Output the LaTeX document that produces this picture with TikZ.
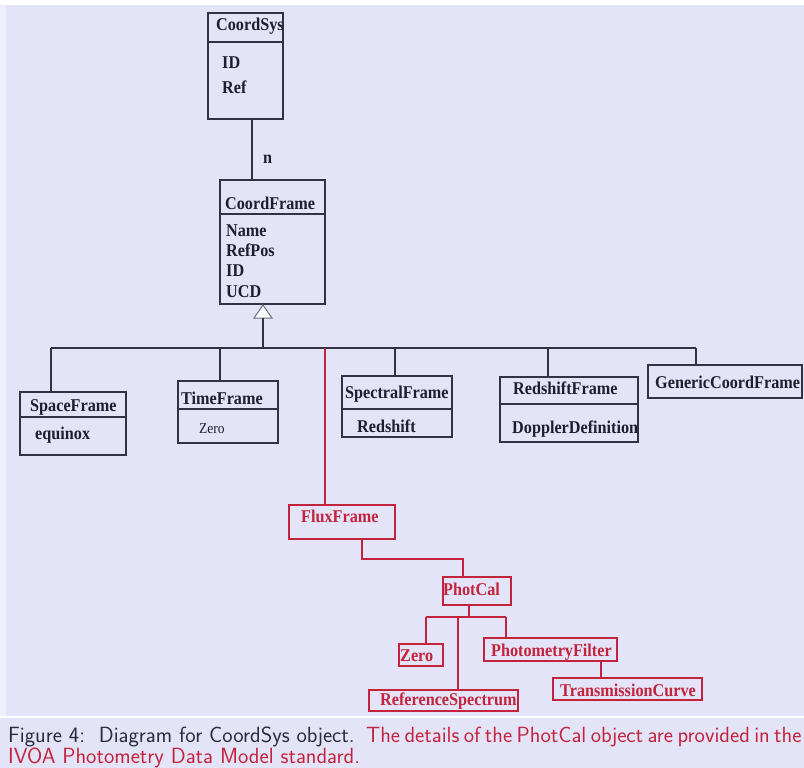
\documentclass[tikz,border=0pt]{standalone}
\usepackage{fontspec}
\setmainfont{Liberation Serif}
\newfontfamily\condserif[FakeStretch=0.9]{Liberation Serif}
\usetikzlibrary{calc}
\definecolor{bg}{RGB}{228,228,248}
\definecolor{bgl}{RGB}{238,238,252}
\definecolor{ink}{RGB}{30,30,46}
\definecolor{ln}{RGB}{50,50,70}
\definecolor{rd}{RGB}{195,35,60}
\definecolor{capink}{RGB}{40,44,60}
\newcommand\umlbox[6]{\node[draw=#6, line width=1.2pt, inner sep=0pt, outer sep=0pt, minimum width={#4-#2}, minimum height={#5-#3}] (#1) at ({(#2+#4)/2},{(#3+#5)/2}) {};}
\begin{document}
\begin{tikzpicture}[x=1pt,y=-1pt,
  lbl/.style={anchor=base west, inner sep=0pt, yshift=-1pt, text=ink, font=\condserif\bfseries\fontsize{18}{18}\selectfont},
  rlbl/.style={lbl, text=rd},
  conn/.style={draw=ln, line width=1.2pt},
  rconn/.style={draw=rd, line width=1.2pt},
  captxt/.style={anchor=base west, inner sep=0pt, font=\sffamily\fontsize{22}{23}\selectfont}]
\useasboundingbox (0,0) rectangle (804,768);
\clip (0,0) rectangle (804,768);
\fill[bg] (0,0) rectangle (804,768);
\fill[white] (0,0) rectangle (804,5);
\fill[bgl] (0,5) rectangle (6,717);
\draw[white, line width=1.5pt] (0,717) -- (804,717);

% boxes
\umlbox{cs}{208}{13}{283}{119}{ln}
\umlbox{cf}{220}{180}{325}{304}{ln}
\umlbox{sf}{20}{392}{126}{455}{ln}
\umlbox{tf}{178}{381}{278}{443}{ln}
\umlbox{spf}{342}{376}{452}{437}{ln}
\umlbox{rsf}{500}{377}{638}{442}{ln}
\umlbox{gcf}{648}{365}{802}{398}{ln}
\umlbox{ff}{289}{505}{395}{539}{rd}
\umlbox{pc}{443}{577}{511}{605}{rd}
\umlbox{zr}{399}{644}{443}{666}{rd}
\umlbox{rs}{369}{690}{518}{711}{rd}
\umlbox{pf}{484}{638}{617}{661}{rd}
\umlbox{tc}{553}{678}{702}{700}{rd}

% header separators
\coordinate (h1) at (0,42);
\coordinate (h2) at (0,214);
\coordinate (h3) at (0,417);
\coordinate (h4) at (0,409);
\coordinate (h5) at (0,409);
\coordinate (h6) at (0,404);
\draw[conn] (cs.west |- h1) -- (cs.east |- h1);
\draw[conn] (cf.west |- h2) -- (cf.east |- h2);
\draw[conn] (sf.west |- h3) -- (sf.east |- h3);
\draw[conn] (tf.west |- h4) -- (tf.east |- h4);
\draw[conn] (spf.west |- h5) -- (spf.east |- h5);
\draw[conn] (rsf.west |- h6) -- (rsf.east |- h6);

% texts
\node[lbl] (t1) at (216,30) {CoordSys};
\node[lbl] (t2) at (222,68) {ID};
\node[lbl] (t3) at (222,92) {Ref};
\node[lbl] (t4) at (225,208) {CoordFrame};
\node[lbl] (t5) at (226,235) {Name};
\node[lbl] (t6) at (226,255) {RefPos};
\node[lbl] (t7) at (226,275) {ID};
\node[lbl] (t8) at (226,296) {UCD};
\node[lbl] (t9) at (30,410) {SpaceFrame};
\node[lbl] (t10) at (35,438) {equinox};
\node[lbl] (t11) at (181,403) {TimeFrame};
\node[lbl, font=\condserif\fontsize{15}{15}\selectfont] (t12) at (199,432) {Zero};
\node[lbl] (t13) at (345,397) {SpectralFrame};
\node[lbl] (t14) at (357,431) {Redshift};
\node[lbl] (t15) at (513,393) {RedshiftFrame};
\node[lbl] (t16) at (512,432) {DopplerDefinition};
\node[lbl] (t17) at (655,387) {GenericCoordFrame};
\node[rlbl] (t18) at (301,521) {FluxFrame};
\node[rlbl] (t19) at (443,594) {PhotCal};
\node[rlbl] (t20) at (400,660) {Zero};
\node[rlbl] (t21) at (380,704) {ReferenceSpectrum};
\node[rlbl] (t22) at (491,655) {PhotometryFilter};
\node[rlbl] (t23) at (560,695) {TransmissionCurve};

% CoordSys - CoordFrame
\coordinate (j1) at (252,150);
\draw[conn] (cs.south -| j1) -- (cf.north -| j1);
\node[lbl] (nlab) at (263,163) {n};

% inheritance
\coordinate (tri) at (263,318);
\coordinate (barL) at (51,348);
\coordinate (barR) at (696,348);
\draw[draw=ln!70, line width=1pt, fill=white!85!bg] (tri |- cf.south) ++(0,1) -- ++(9,13) -- ++(-18,0) -- cycle;
\draw[conn] (tri) -- (tri |- barL);
\draw[conn] (barL) -- (barR);
\draw[conn] (barL) -- (barL |- sf.north);
\coordinate (d2) at (220,348);
\coordinate (d3) at (395,348);
\coordinate (d4) at (548,348);
\draw[conn] (d2) -- (d2 |- tf.north);
\draw[conn] (d3) -- (d3 |- spf.north);
\draw[conn] (d4) -- (d4 |- rsf.north);
\draw[conn] (barR) -- (barR |- gcf.north);

% red branch
\coordinate (rdd) at (325,348);
\draw[rconn] (rdd) -- (rdd |- ff.north);
\coordinate (fpA) at (362,559);
\coordinate (fpB) at (463,559);
\draw[rconn] (ff.south -| fpA) -- (fpA) -- (fpB) -- (fpB |- pc.north);
\coordinate (pcA) at (469,617);
\draw[rconn] (pc.south -| pcA) -- (pcA);
\coordinate (zb) at (426,617);
\coordinate (rsb) at (458,617);
\coordinate (pfb) at (506,617);
\draw[rconn] (zb) -- (pfb);
\draw[rconn] (zb) -- (zb |- zr.north);
\draw[rconn] (rsb) -- (rsb |- rs.north);
\draw[rconn] (pfb) -- (pfb |- pf.north);
\coordinate (tcA) at (601,670);
\draw[rconn] (pf.south -| tcA) -- (tc.north -| tcA);

% caption
\node[captxt, text=capink] (c1) at (8,742) {Figure 4:\ \ Diagram for CoordSys object.};
\node[captxt, text=rd] (c1r) at (366,742) {\spaceskip=0.2em\relax The details of the PhotCal object are provided in the};
\node[captxt, text=rd] (c2) at (8,763) {IVOA Photometry Data Model standard.};
\end{tikzpicture}
\end{document}
